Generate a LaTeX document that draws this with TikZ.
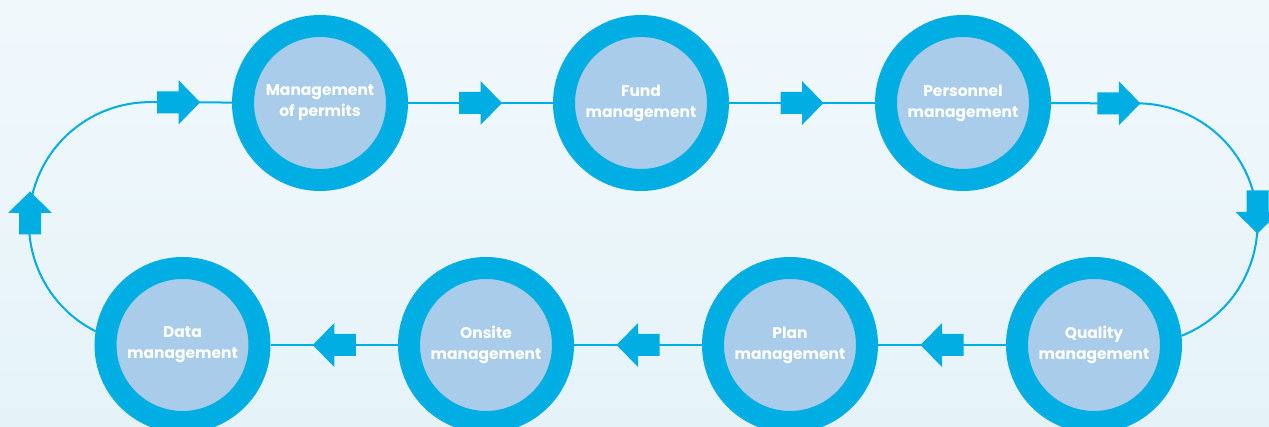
\documentclass[tikz,border=0pt]{standalone}
\usepackage{fontspec}
\setmainfont{Poppins}

\definecolor{ringblue}{RGB}{0,174,228}
\definecolor{innerblue}{RGB}{169,204,234}
\definecolor{bgtop}{RGB}{241,248,252}
\definecolor{bgbottom}{RGB}{229,243,249}

\tikzset{
  station/.style={circle, draw=ringblue, line width=22pt, fill=innerblue,
    minimum size=154pt, inner sep=0pt, text=white, align=center,
    font=\fontsize{15.5}{21}\selectfont\bfseries},
  link/.style={draw=ringblue, line width=2pt},
  flowarrow/.pic={
    \fill[ringblue] (-21.5,-11) -- (0,-11) -- (0,-22) -- (21.5,0)
      -- (0,22) -- (0,11) -- (-21.5,11) -- cycle;
  }
}

\begin{document}
\begin{tikzpicture}[x=1pt, y=1pt]

    % Fix the frame and paint the soft background
    \useasboundingbox (0,0) rectangle (1269,-427);
    \shade[top color=bgtop, bottom color=bgbottom] (0,0) rectangle (1269,-427);

    % Upper row of stations
    \node[station] (perm) at (320,-103) {Management\\of permits};
    \node[station] (fund) at (641,-103) {Fund\\management};
    \node[station] (pers) at (963,-103) {Personnel\\management};

    % Lower row of stations
    \node[station] (data) at (182.5,-345) {Data\\management};
    \node[station] (onsite) at (486,-345) {Onsite\\management};
    \node[station] (plan) at (790,-345) {Plan\\management};
    \node[station] (qual) at (1094,-345) {Quality\\management};

    % Straight links along the upper row
    \draw[link] (perm) -- pic[pos=0.5]{flowarrow} (fund);
    \draw[link] (fund) -- pic[pos=0.5]{flowarrow} (pers);

    % Straight links along the lower row (flow runs to the left)
    \draw[link] (qual) -- pic[pos=0.5, rotate=180]{flowarrow} (plan);
    \draw[link] (plan) -- pic[pos=0.5, rotate=180]{flowarrow} (onsite);
    \draw[link] (onsite) -- pic[pos=0.5, rotate=180]{flowarrow} (data);

    % Right hand bend from Personnel down to Quality
    \draw[link] (qual.6) arc[start angle=-68.3, end angle=90, radius=120.5]
      -- pic[pos=0.21]{flowarrow} (pers);
    \pic[rotate=-90] at (1257.5,-212) {flowarrow};

    % Left hand bend from Data up to Management of permits
    \draw[link] (data.171) arc[start angle=243.3, end angle=90, radius=121]
      -- pic[pos=0.35]{flowarrow} (perm);
    \pic[rotate=90] at (30,-213) {flowarrow};

\end{tikzpicture}
\end{document}
